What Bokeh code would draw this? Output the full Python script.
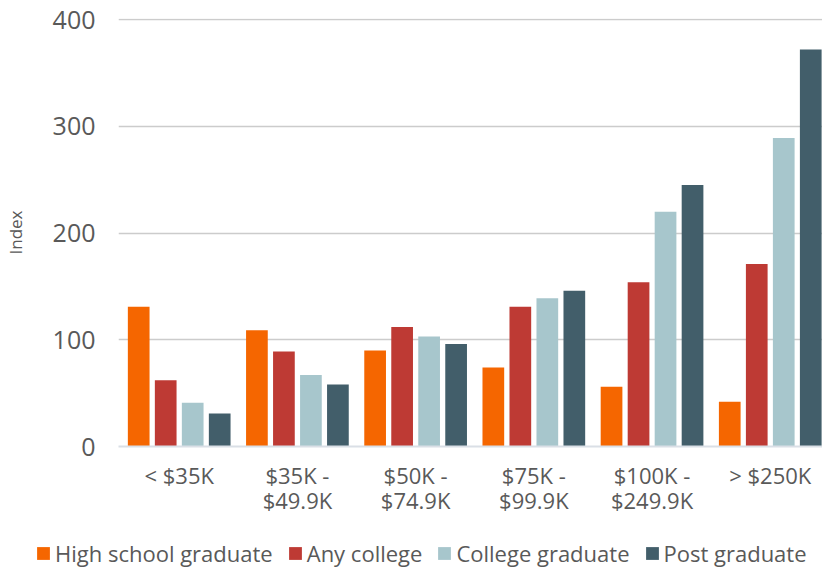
from bokeh.plotting import figure
from bokeh.layouts import column
from bokeh.models import Range1d, FixedTicker, ColumnDataSource, Legend, LegendItem
from bokeh.embed import file_html
from bokeh.resources import INLINE

# ---- data ----
categories = ["< $35K", "$35K -\n$49.9K", "$50K -\n$74.9K", "$75K -\n$99.9K",
              "$100K -\n$249.9K", "> $250K"]
series_names = ["High school graduate", "Any college", "College graduate", "Post graduate"]
high_school = [131, 109, 90, 74, 56, 42]
any_college = [62, 89, 112, 131, 154, 171]
college_grad = [41, 67, 103, 139, 220, 289]
post_grad = [31, 58, 96, 146, 245, 372]
y_ticks = [0, 100, 200, 300, 400]
y_label = "Index"

colors = ["#F56600", "#BE3A34", "#A7C6CC", "#425E6A"]
FONT = "Open Sans"
TXT = "#595959"

p = figure(width=822, height=530, output_backend="svg", toolbar_location=None,
           x_range=Range1d(-0.5135, 5.442), y_range=Range1d(0, 401),
           min_border_left=118, min_border_top=18, min_border_bottom=84,
           min_border_right=0)
p.frame_align = False
p.outline_line_color = None

xs = list(range(len(categories)))
step = 0.2284
bw = 0.1836
offsets = [-1.5 * step, -0.5 * step, 0.5 * step, 1.5 * step]
all_series = [high_school, any_college, college_grad, post_grad]
sources = []
for vals, off, col in zip(all_series, offsets, colors):
    src = ColumnDataSource(dict(x=[x + off for x in xs], top=vals))
    sources.append(src)
    p.vbar(x="x", top="top", width=bw, bottom=0, source=src, fill_color=col,
           line_color=None)

# x axis
p.xaxis.ticker = FixedTicker(ticks=xs)
p.xaxis.major_label_overrides = {i: c for i, c in enumerate(categories)}
p.xaxis.axis_line_color = "#dadfe6"
p.xaxis.axis_line_width = 2
p.xaxis.major_tick_line_color = None
p.xaxis.major_tick_out = 0
p.xaxis.major_tick_in = 0
p.xaxis.minor_tick_line_color = None
p.xaxis.major_label_text_font = FONT
p.xaxis.major_label_text_font_size = "22px"
p.xaxis.major_label_text_color = TXT
p.xaxis.major_label_text_line_height = 0.84
p.xaxis.major_label_standoff = 13
p.xgrid.grid_line_color = None

# y axis
p.yaxis.ticker = FixedTicker(ticks=y_ticks)
p.yaxis.axis_line_color = None
p.yaxis.major_tick_line_color = None
p.yaxis.major_tick_out = 0
p.yaxis.major_tick_in = 0
p.yaxis.minor_tick_line_color = None
p.yaxis.major_label_text_font = FONT
p.yaxis.major_label_text_font_size = "25px"
p.yaxis.major_label_text_color = TXT
p.yaxis.major_label_standoff = 23
p.yaxis.axis_label = y_label
p.yaxis.axis_label_text_font = FONT
p.yaxis.axis_label_text_font_size = "17px"
p.yaxis.axis_label_text_font_style = "normal"
p.yaxis.axis_label_text_color = TXT
p.yaxis.axis_label_standoff = 23
p.ygrid.grid_line_color = "#cccccc"
p.ygrid.grid_line_width = 1.5

# legend strip (separate figure so the legend can span the full width)
q = figure(width=822, height=39, output_backend="svg", toolbar_location=None,
           x_range=Range1d(0, 1), y_range=Range1d(0, 1),
           x_axis_location=None, y_axis_location=None,
           min_border=0, min_border_left=0, min_border_right=0,
           min_border_top=0, min_border_bottom=0)
q.frame_align = False
q.outline_line_color = None
q.grid.visible = False
items = []
for name, src, col in zip(series_names, sources, colors):
    r = q.vbar(x="x", top="top", width=bw, bottom=0, source=src, fill_color=col,
               line_color=None, visible=False)
    items.append(LegendItem(label=name, renderers=[r]))
lg = Legend(items=items, orientation="horizontal", location=(35, 1),
            border_line_color=None, background_fill_alpha=0, padding=0, margin=0,
            spacing=14, glyph_width=16, glyph_height=16, label_standoff=4,
            label_height=20, label_text_font=FONT, label_text_font_size="22px",
            label_text_color=TXT)
q.add_layout(lg)

layout = column(p, q, spacing=0)
open("out.html", "w").write(file_html(layout, INLINE))
